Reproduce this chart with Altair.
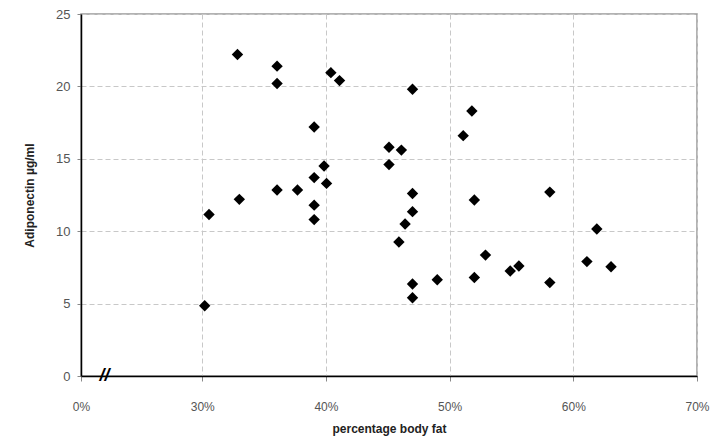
import altair as alt
import pandas as pd

body_fat = [30.2, 30.55, 32.85, 33.0, 36.05, 36.05, 36.05, 37.7, 39.05, 39.05,
            39.05, 39.05, 39.85, 40.05, 40.4, 41.1, 45.1, 45.1, 46.1, 47.0,
            47.0, 47.0, 46.4, 45.9, 47.0, 47.0, 49.0, 51.1, 51.8, 52.0,
            52.0, 52.9, 54.9, 55.6, 58.1, 58.1, 61.1, 61.9, 63.05]
adiponectin = [4.85, 11.15, 22.2, 12.2, 21.4, 20.2, 12.85, 12.85, 17.2, 13.7,
               11.8, 10.8, 14.5, 13.3, 20.95, 20.4, 15.8, 14.6, 15.6, 19.8,
               12.6, 11.35, 10.5, 9.25, 6.35, 5.4, 6.65, 16.6, 18.3, 12.15,
               6.8, 8.35, 7.25, 7.6, 12.7, 6.45, 7.9, 10.15, 7.55]

x_ticks = [20.2, 30, 40, 50, 60, 70]
y_ticks = [0, 5, 10, 15, 20, 25]
break_x = [22.1]
break_y = [0]

df = pd.DataFrame({"fat": body_fat, "adipo": adiponectin})
brk = pd.DataFrame({"x": break_x, "y": break_y, "t": ["//"]})

xscale = alt.Scale(domain=[20.2, 70], nice=False, zero=False)
yscale = alt.Scale(domain=[0, 25], nice=False)

points = alt.Chart(df).mark_point(
    shape="diamond", filled=True, color="black", size=130, opacity=1
).encode(
    x=alt.X("fat:Q", scale=xscale, title="percentage body fat",
            axis=alt.Axis(values=x_ticks,
                          labelExpr="datum.value < 25 ? '0%' : format(datum.value, 'd') + '%'",
                          labelFlush=False,
                          grid=True, gridColor="#c8c8c8", gridDash=[5, 3], gridWidth=1,
                          domainColor="black", domainWidth=1.5,
                          tickColor="#888", tickSize=5,
                          labelPadding=20, labelFontSize=12, labelColor="#555",
                          labelFont="Liberation Sans",
                          titleFont="Liberation Sans", titleFontSize=12,
                          titleFontWeight="bold", titleColor="#222", titlePadding=11)),
    y=alt.Y("adipo:Q", scale=yscale, title="Adiponectin µg/ml",
            axis=alt.Axis(values=y_ticks, labelFlush=False,
                          grid=True, gridColor="#c8c8c8", gridDash=[5, 3], gridWidth=1,
                          domainColor="black", domainWidth=1.5,
                          tickColor="#888", tickSize=4,
                          labelPadding=7, labelFontSize=13, labelColor="#555",
                          labelFont="Liberation Sans",
                          titleFont="Liberation Sans", titleFontSize=12,
                          titleFontWeight="bold", titleColor="#222", titlePadding=19)),
)

breakmark = alt.Chart(brk).mark_text(
    text="//", fontSize=18, fontWeight="bold", color="black", font="Liberation Sans",
    fontStyle="italic"
).encode(
    x=alt.X("x:Q", scale=xscale),
    y=alt.Y("y:Q", scale=yscale),
)

chart = alt.layer(points, breakmark).properties(
    width=616, height=362,
    autosize=alt.AutoSizeParams(type="none"),
    padding={"left": 81, "top": 14, "right": 25, "bottom": 66},
    background="white",
).configure_view(stroke="#999", strokeWidth=1.5)

chart.save("out.html", embed_options={"renderer": "svg", "actions": False})
